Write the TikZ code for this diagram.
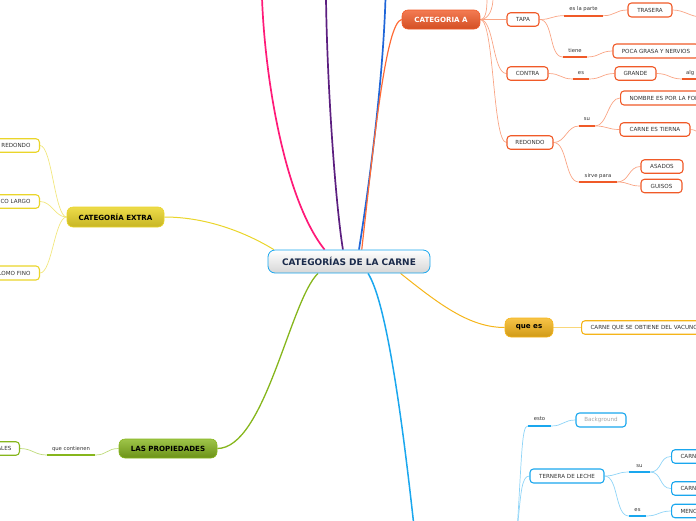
\documentclass[tikz,border=0pt]{standalone}
\usepackage{fontspec}
\setmainfont{DejaVu Sans}
\usetikzlibrary{backgrounds}
\definecolor{cor}{HTML}{F05A28}
\definecolor{corl}{HTML}{F9A585}
\definecolor{cbl}{HTML}{1AA7EE}
\definecolor{cbll}{HTML}{8FD4F7}
\definecolor{cye}{HTML}{EAD52A}
\definecolor{cyel}{HTML}{F2E77E}
\definecolor{cgo}{HTML}{F5B51A}
\definecolor{cgol}{HTML}{F9D77A}
\definecolor{cgr}{HTML}{86B61C}
\definecolor{cgrl}{HTML}{BEDB7A}
\definecolor{cpink}{HTML}{FF1A78}
\definecolor{cpur}{HTML}{5C1F80}
\definecolor{cblue}{HTML}{2066D8}
\definecolor{cmor}{HTML}{FF6A35}
\definecolor{ctxt}{HTML}{333333}
\definecolor{cnavy}{HTML}{1A2A4A}
\begin{document}
\begin{tikzpicture}[x=1pt,y=-1pt,
  leaf/.style={draw, fill=white, rounded corners=3.5pt, line width=1.1pt, inner sep=0pt,
    minimum height=13.5pt, text=ctxt, font=\fontsize{5.6}{6}\selectfont},
  lbl/.style={inner sep=0pt, text=ctxt, font=\fontsize{5.3}{6}\selectfont},
  mainn/.style={rounded corners=6pt, line width=0.6pt, inner sep=0pt, minimum height=19pt,
    font=\fontsize{7.1}{8}\selectfont\bfseries},
  sub/.style={line width=0.7pt},
  uline/.style={line width=1.6pt},
  trunkl/.style={line width=1.7pt}
]
\useasboundingbox (0,0) rectangle (696,520);
\clip (0,0) rectangle (696,520);

% central
\node[rounded corners=7pt, draw=cbl, line width=0.8pt, top color=white, bottom color=black!16,
  minimum width=162pt, minimum height=23pt, inner sep=0pt, text=cnavy,
  font=\fontsize{9}{10}\selectfont\bfseries] (c) at (349,261.5) {CATEGORÍAS DE LA CARNE};

% main nodes
\node[mainn, draw=cor, top color=cor!80!white, bottom color=cor!88!black, text=white,
  minimum width=78pt] (cata) at (441,19.5) {CATEGORIA A};
\node[mainn, draw=cye, top color=cye!85!white, bottom color=cye!85!black, text=black,
  minimum width=97pt, minimum height=20pt] (extra) at (115.5,217) {CATEGORÍA EXTRA};
\node[mainn, draw=cgo, top color=cgo!80!white, bottom color=cgo!85!black, text=black,
  minimum width=48pt] (quees) at (529,327.5) {que es};
\node[mainn, draw=cgr, top color=cgr!80!white, bottom color=cgr!80!black, text=black,
  minimum width=98pt] (prop) at (168,448.5) {LAS PROPIEDADES};

% orange branch
\node[leaf, draw=cor, minimum width=32pt] (tapa) at (523,19.5) {TAPA};
\node[leaf, draw=cor, minimum width=41pt] (contra) at (527.5,73.5) {CONTRA};
\node[leaf, draw=cor, minimum width=46pt] (redondo) at (530,142.5) {REDONDO};
\node[leaf, draw=cor, minimum width=44pt, minimum height=14pt] (trasera) at (650,10) {TRASERA};
\node[leaf, draw=cor, minimum width=86pt, minimum height=14pt] (poca) at (656,51) {POCA GRASA Y NERVIOS};
\node[leaf, draw=cor, minimum width=41pt] (grande) at (635.5,73.5) {GRANDE};
\node[leaf, draw=cor, minimum height=14pt, anchor=west, text width=90pt, align=left, inner xsep=9pt] (nombre) at (620,98) {NOMBRE ES POR LA FOR};
\node[leaf, draw=cor, minimum width=70pt] (tierna) at (655,129.5) {CARNE ES TIERNA};
\node[leaf, draw=cor, minimum width=42pt] (asados) at (662,166.5) {ASADOS};
\node[leaf, draw=cor, minimum width=41pt] (guisos) at (661.5,186) {GUISOS};

\node[lbl, minimum width=39pt, minimum height=12pt, anchor=south] (l1) at (583.5,15.7) {es la parte};
\node[lbl, minimum width=24pt, minimum height=12pt, anchor=south] (l2) at (575,57) {tiene};
\node[lbl, minimum width=16pt, minimum height=12pt, anchor=south] (l3) at (581,79) {es};
\node[lbl, minimum height=12pt, anchor=south west, text width=20pt, align=left, inner xsep=4pt] (l4) at (682,79) {alg};
\node[lbl, minimum width=16pt, minimum height=14pt, anchor=south] (l5) at (587,126) {su};
\node[lbl, minimum width=38pt, minimum height=12pt, anchor=south] (l6) at (598,182) {sirve para};
\coordinate (trR) at (702,17);
\coordinate (tiR) at (702,133);
\coordinate (topA) at (487,-2);
\coordinate (topB) at (493,-2);

% yellow branch
\node[leaf, draw=cye, anchor=east, text width=60pt, align=right, inner xsep=9pt] (y1) at (40,145.5) {O REDONDO};
\node[leaf, draw=cye, anchor=east, text width=60pt, align=right, inner xsep=9pt] (y2) at (40,201.5) {SCO LARGO};
\node[leaf, draw=cye, anchor=east, text width=60pt, align=right, inner xsep=9pt, minimum height=14pt] (y3) at (40,273) {LOMO FINO};

% gold branch
\node[leaf, draw=cgo, anchor=west, text width=120pt, align=left, inner xsep=9pt] (g1) at (581,327.5) {CARNE QUE SE OBTIENE DEL VACUNO};

% green branch
\node[lbl, minimum width=48pt, minimum height=12pt, anchor=south] (lq) at (71,455) {que contienen};
\node[leaf, draw=cgr, anchor=east, text width=30pt, align=right, inner xsep=8pt] (ales) at (20,448.5) {ALES};

% light blue branch
\coordinate (bp) at (517,532);
\node[lbl, minimum width=23pt, minimum height=14pt, anchor=south] (lesto) at (539.5,426) {esto};
\node[leaf, draw=cbl, minimum width=50pt, minimum height=14pt, text=black!35] (bg) at (601,420) {Background};
\node[leaf, draw=cbl, minimum width=74pt, minimum height=14pt] (tern) at (567,476) {TERNERA DE LECHE};
\node[lbl, minimum width=21pt, minimum height=12pt, anchor=south] (lsu) at (639.5,472) {su};
\node[lbl, minimum width=17pt, minimum height=12pt, anchor=south] (les) at (637.5,516) {es};
\node[leaf, draw=cbl, anchor=west, text width=30pt, align=left, inner xsep=9pt] (b1) at (671,456.5) {CARN};
\node[leaf, draw=cbl, anchor=west, text width=30pt, align=left, inner xsep=9pt] (b2) at (671,488.5) {CARN};
\node[leaf, draw=cbl, anchor=west, text width=30pt, align=left, inner xsep=9pt] (b3) at (671,511) {MENO};

\coordinate (pinkT) at (262,-2);
\coordinate (purT) at (326,-2);
\coordinate (bluT) at (385.5,-2);
\coordinate (lbT) at (413.5,522);

\begin{scope}[on background layer]
\clip (0,0) rectangle (696,520);
% trunks
\draw[cpink, trunkl] (c.154) .. controls (285,200) and (265,80) .. (pinkT);
\draw[cpur, trunkl] (c.117.5) .. controls (335,200) and (327,80) .. (purT);
\draw[cblue, trunkl] (c.50.4) .. controls (370,180) and (383,80) .. (bluT);
\draw[cmor, line width=1.2pt] (c.43.8) .. controls (374,140) and (386,22) .. (cata.west);
\draw[cye, line width=1pt] (c.171) .. controls (250,235) and (210,217) .. (extra.east);
\draw[cgo, line width=1pt] (c.347.3) .. controls (440,305) and (470,327.5) .. (quees.west);
\draw[cgr, line width=1.3pt] (c.201.6) .. controls (290,300) and (265,448.5) .. (prop.east);
\draw[cbl, line width=1.5pt] (c.328.8) .. controls (385,300) and (400,400) .. (lbT);

% orange sub
\begin{scope}[corl, sub]
\draw (cata.east) .. controls +(6,0) and +(0,10) .. (topA);
\draw (cata.east) .. controls +(9,0) and +(0,10) .. (topB);
\draw (cata.east) .. controls +(12,0) and +(-12,0) .. (tapa.west);
\draw (cata.east) .. controls +(14,0) and +(-14,0) .. (contra.west);
\draw (cata.east) .. controls +(14,0) and +(-14,0) .. (redondo.west);
\draw (tapa.east) .. controls +(12,0) and +(-12,0) .. (l1.south west);
\draw (l1.south east) .. controls +(12,0) and +(-12,0) .. (trasera.west);
\draw (tapa.east) .. controls +(14,0) and +(-14,0) .. (l2.south west);
\draw (l2.south east) .. controls +(12,0) and +(-12,0) .. (poca.west);
\draw (contra.east) .. controls +(12,0) and +(-12,0) .. (l3.south west);
\draw (l3.south east) .. controls +(12,0) and +(-12,0) .. (grande.west);
\draw (grande.east) .. controls +(12,0) and +(-12,0) .. (l4.south west);
\draw (redondo.east) .. controls +(12,0) and +(-12,0) .. (l5.south west);
\draw (l5.south east) .. controls +(12,0) and +(-12,0) .. (nombre.west);
\draw (l5.south east) .. controls +(12,0) and +(-12,0) .. (tierna.west);
\draw (redondo.east) .. controls +(14,0) and +(-14,0) .. (l6.south west);
\draw (l6.south east) .. controls +(12,0) and +(-12,0) .. (asados.west);
\draw (l6.south east) .. controls +(12,0) and +(-12,0) .. (guisos.west);
\draw (trasera.east) .. controls +(12,0) and +(-12,0) .. (trR);
\draw (tierna.east) .. controls +(6,0) and +(-6,0) .. (tiR);
\end{scope}
\begin{scope}[cor, uline]
\draw (l1.south west) -- (l1.south east);
\draw (l2.south west) -- (l2.south east);
\draw (l3.south west) -- (l3.south east);
\draw (l4.south west) -- (l4.south east);
\draw (l5.south west) -- (l5.south east);
\draw (l6.south west) -- (l6.south east);
\end{scope}

% yellow sub
\begin{scope}[cyel, sub]
\draw (extra.west) .. controls +(-12,0) and +(12,0) .. (y1.east);
\draw (extra.west) .. controls +(-12,0) and +(12,0) .. (y2.east);
\draw (extra.west) .. controls +(-12,0) and +(12,0) .. (y3.east);
\end{scope}

% gold sub
\draw[cgol, line width=1pt] (quees.east) -- (g1.west);

% green sub
\begin{scope}[cgrl, sub]
\draw (prop.west) .. controls +(-12,0) and +(12,0) .. (lq.south east);
\draw (lq.south west) .. controls +(-12,0) and +(12,0) .. (ales.east);
\end{scope}
\draw[cgr, uline] (lq.south west) -- (lq.south east);

% light blue sub
\begin{scope}[cbll, sub]
\draw (bp) .. controls +(5,-80) and +(-6,0) .. (lesto.south west);
\draw (lesto.south east) .. controls +(12,0) and +(-12,0) .. (bg.west);
\draw (bp) .. controls +(4,-40) and +(-8,0) .. (tern.west);
\draw (tern.east) .. controls +(12,0) and +(-12,0) .. (lsu.south west);
\draw (lsu.south east) .. controls +(12,0) and +(-12,0) .. (b1.west);
\draw (lsu.south east) .. controls +(12,0) and +(-12,0) .. (b2.west);
\draw (tern.east) .. controls +(14,0) and +(-14,0) .. (les.south west);
\draw (les.south east) .. controls +(12,0) and +(-12,0) .. (b3.west);
\end{scope}
\begin{scope}[cbl, uline]
\draw (lesto.south west) -- (lesto.south east);
\draw (lsu.south west) -- (lsu.south east);
\draw (les.south west) -- (les.south east);
\end{scope}
\end{scope}
\end{tikzpicture}
\end{document}
